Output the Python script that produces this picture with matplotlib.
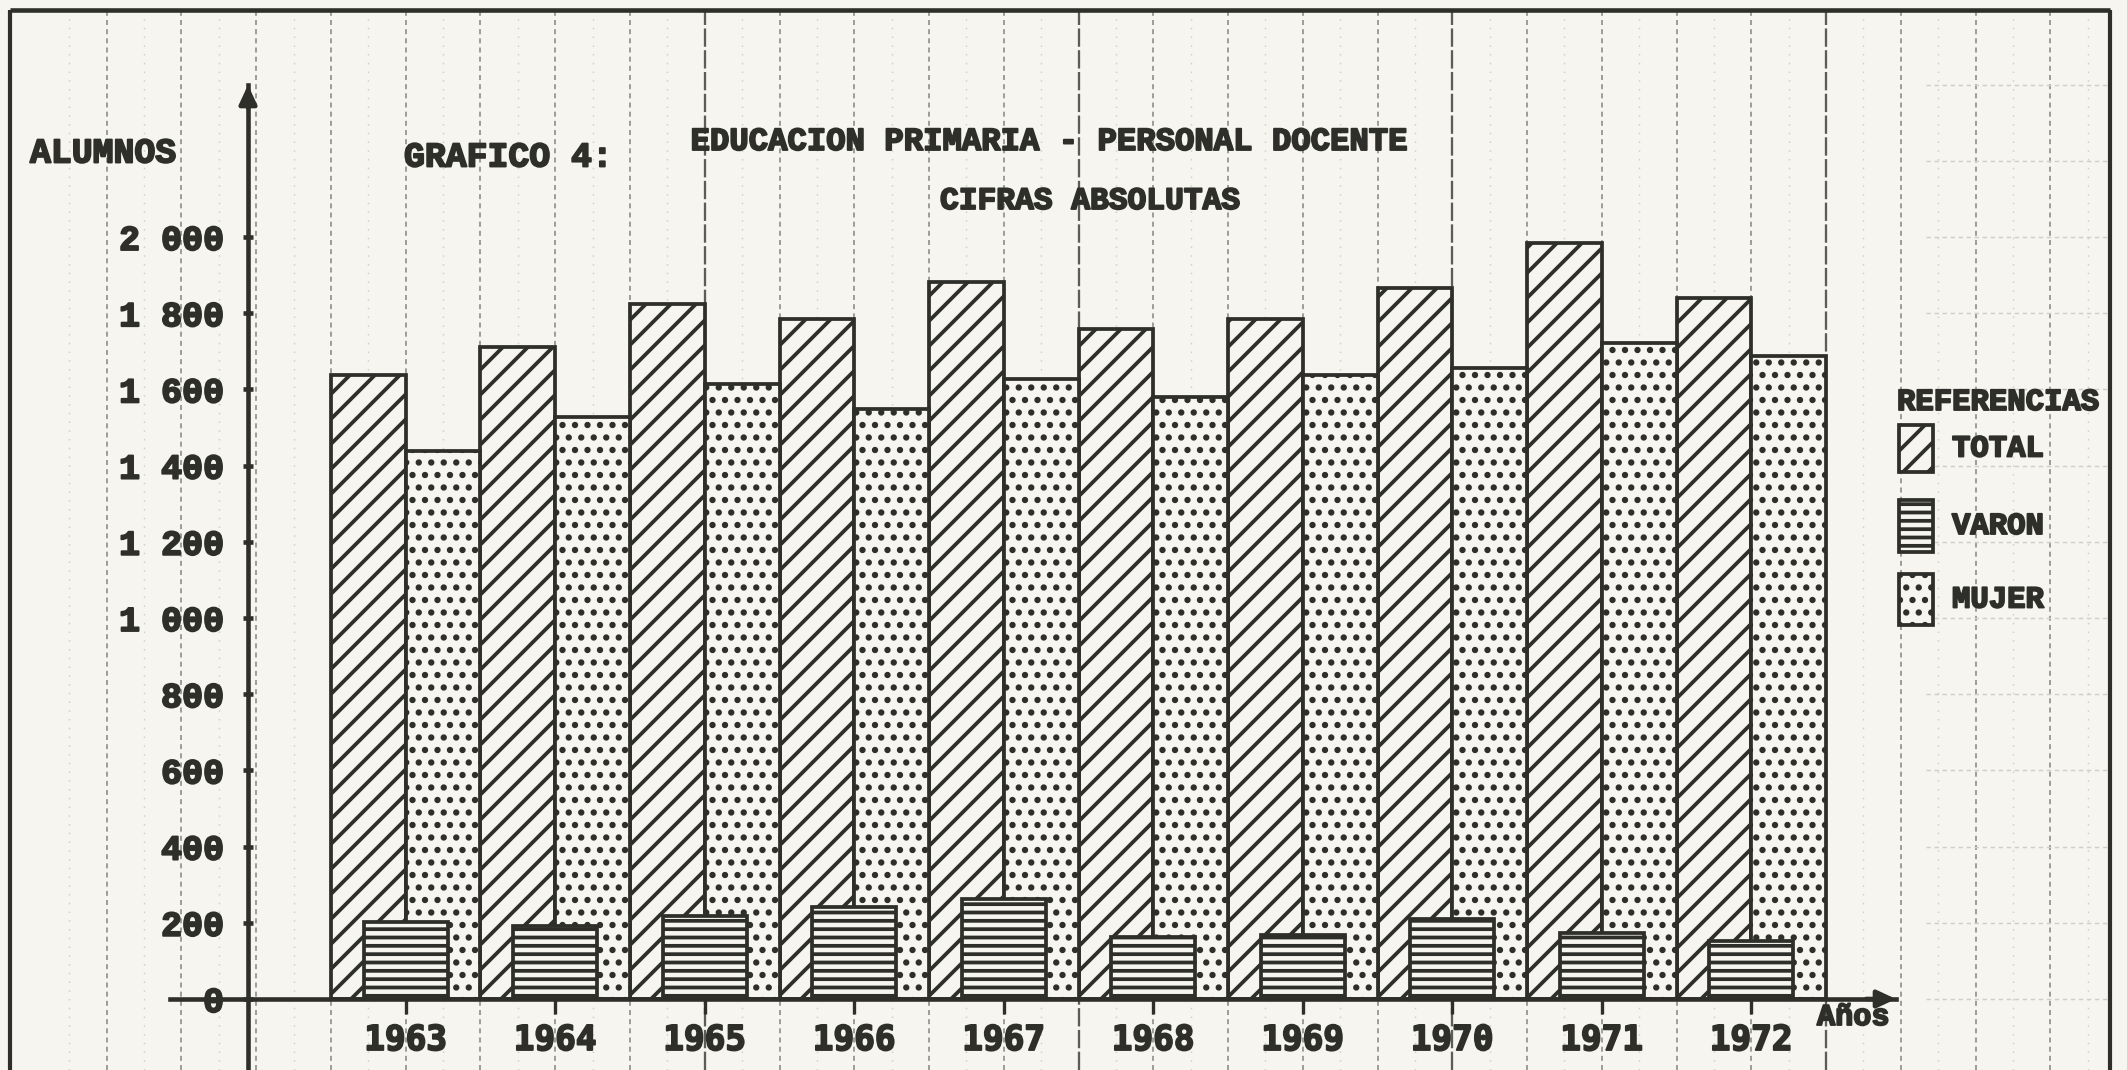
import numpy as np
import matplotlib; matplotlib.use("Agg")
import matplotlib.pyplot as plt
import matplotlib.patheffects as pe
from matplotlib.patches import Rectangle

PAPER = "#f6f5ef"; INK = "#2e2f2b"; GRID = "#8e8e89"; GRID_LT = "#cfcec7"
MONO = ["Liberation Mono", "DejaVu Sans Mono"]
HEAVY = [pe.withStroke(linewidth=0.9, foreground=INK)]   # trazo de máquina de escribir

# ── datos ──
years  = ["1963", "1964", "1965", "1966", "1967", "1968", "1969", "1970", "1971", "1972"]
total  = [1638, 1712, 1823, 1784, 1883, 1759, 1784, 1865, 1983, 1840]
mujer  = [1438, 1527, 1613, 1549, 1627, 1581, 1638, 1655, 1723, 1687]
varon  = [203, 192, 217, 242, 263, 164, 167, 210, 174, 153]
yticks = [0, 200, 400, 600, 800, 1000, 1200, 1400, 1600, 1800, 2000]
ylabels = ["0", "200", "400", "600", "800", "1 000", "1 200", "1 400", "1 600", "1 800", "2 000"]
series = ["TOTAL", "VARON", "MUJER"]

# ── lienzo en píxeles: 2127 x 1070 ──
W, H, DPI = 2127, 1070, 150
UX = 149.5            # px por grupo (año)
X0 = 331              # px del borde izquierdo del primer grupo
UY = 0.381            # px por alumno
Y0 = 71               # px (desde abajo) del cero
def fx(px): return px / W
def fy(py): return 1 - py / H          # py medido desde arriba
def dx(px): return -0.5 + (px - X0) / UX
def dy(py): return ((H - py) - Y0) / UY

plt.rcParams["hatch.linewidth"] = 1.8
fig = plt.figure(figsize=(W / DPI, H / DPI), dpi=DPI)
fig.patch.set_facecolor(PAPER)
ax = fig.add_axes([0, 0, 1, 1])
ax.set_facecolor(PAPER)
ax.set_xlim(dx(0), dx(W)); ax.set_ylim(dy(H), dy(0))

# papel milimetrado: líneas verticales cada medio grupo, marco aparte
ytop = dy(10)
for k in range(-3, 24):
    xk = -0.5 + 0.5 * k
    if k % 5 == 0 and k > 0:
        ax.vlines(xk, dy(H), ytop, color="#5c5c58", lw=1.1, ls=(0, (8, 1.5)), zorder=1)
    else:
        ax.vlines(xk, dy(H), ytop, color=GRID, lw=0.8, ls=(0, (3, 2.5)), zorder=1)
for k in range(-4, 24):
    ax.vlines(-0.25 + 0.5 * k, dy(H), ytop, color=GRID_LT, lw=0.7, ls=(0, (1, 5)), zorder=1)
ax.vlines([dx(10), dx(2110)], dy(H), ytop, color=INK, lw=2.0, zorder=1)
ax.hlines(ytop, dx(10), dx(2110), color=INK, lw=2.2, zorder=1)
for yv in range(0, 2500, 200):
    ax.hlines(yv, dx(1926), dx(2110), color=GRID_LT, lw=0.7, ls=(0, (3, 2.5)), zorder=1)

# barras
x = np.arange(len(years))
ax.bar(x - 0.25, total, width=0.5, facecolor=PAPER, edgecolor=INK, lw=1.8, hatch="//", zorder=3)
ax.bar(x + 0.25, mujer, width=0.5, facecolor=PAPER, edgecolor=INK, lw=1.8, hatch="..", zorder=3)
ax.bar(x, varon, width=0.56, facecolor=PAPER, edgecolor=INK, lw=1.8, hatch="---", zorder=4)

# ejes con flechas
YAX = dx(248)
for s in ("top", "right"):
    ax.spines[s].set_visible(False)
ax.spines["left"].set_position(("data", YAX))
ax.spines["bottom"].set_position(("data", 0))
ax.spines["left"].set_bounds(dy(H), dy(85))
ax.spines["bottom"].set_bounds(dx(170), dx(1896))
for s in ("left", "bottom"):
    ax.spines[s].set_linewidth(2.2); ax.spines[s].set_color(INK); ax.spines[s].set_zorder(5)
arrow = dict(arrowstyle="-|>,head_length=0.75,head_width=0.35", color=INK, lw=2.2, shrinkA=0, shrinkB=0)
ax.annotate("", xy=(YAX, dy(85)), xytext=(YAX, dy(85) - 60), arrowprops=arrow, zorder=6)
ax.annotate("", xy=(dx(1896), 0), xytext=(dx(1896) - 0.2, 0), arrowprops=arrow, zorder=6)

ax.set_yticks(yticks, ylabels, fontfamily=MONO, fontweight="bold", fontsize=16.8, color=INK)
ax.set_xticks(x, years, fontfamily=["DejaVu Sans Mono"], fontweight="bold", fontsize=16.5, color=INK)
ax.tick_params(axis="y", direction="inout", length=5, width=2.2, color=INK, pad=9)
ax.tick_params(axis="x", direction="out", length=7, width=1.6, color=INK, pad=5)
for lbl in ax.get_yticklabels() + ax.get_xticklabels():
    lbl.set_path_effects(HEAVY)

# textos
txt = dict(family=MONO, weight="bold", color=INK, va="center", path_effects=HEAVY)
fig.text(fx(30), fy(153), "ALUMNOS", ha="left", fontsize=16.7, **txt)
fig.text(fx(404), fy(157), "GRAFICO 4:", ha="left", fontsize=16.7, **txt)
fig.text(fx(1049), fy(142), "EDUCACION PRIMARIA - PERSONAL DOCENTE", ha="center", fontsize=15.5, **txt)
fig.text(fx(1090), fy(201), "CIFRAS ABSOLUTAS", ha="center", fontsize=15.0, **txt)
fig.text(fx(1817), fy(1017), "Años", ha="left", fontsize=14.5, **txt)

# referencias
fig.text(fx(1897), fy(402), "REFERENCIAS", ha="left", fontsize=14.7, **txt)
boxes = [(425, 472, "//"), (500, 552, "---"), (574, 625, "..")]
for name, (t, b, hatch) in zip(series, boxes):
    fig.add_artist(Rectangle((fx(1899), fy(b)), 34 / W, (b - t) / H, transform=fig.transFigure,
                             facecolor=PAPER, edgecolor=INK, lw=1.8, hatch=hatch, zorder=5))
    fig.text(fx(1952), fy((t + b) / 2), name, ha="left", fontsize=14.7, **txt)

fig.savefig("out.png", dpi=DPI, facecolor=PAPER)
